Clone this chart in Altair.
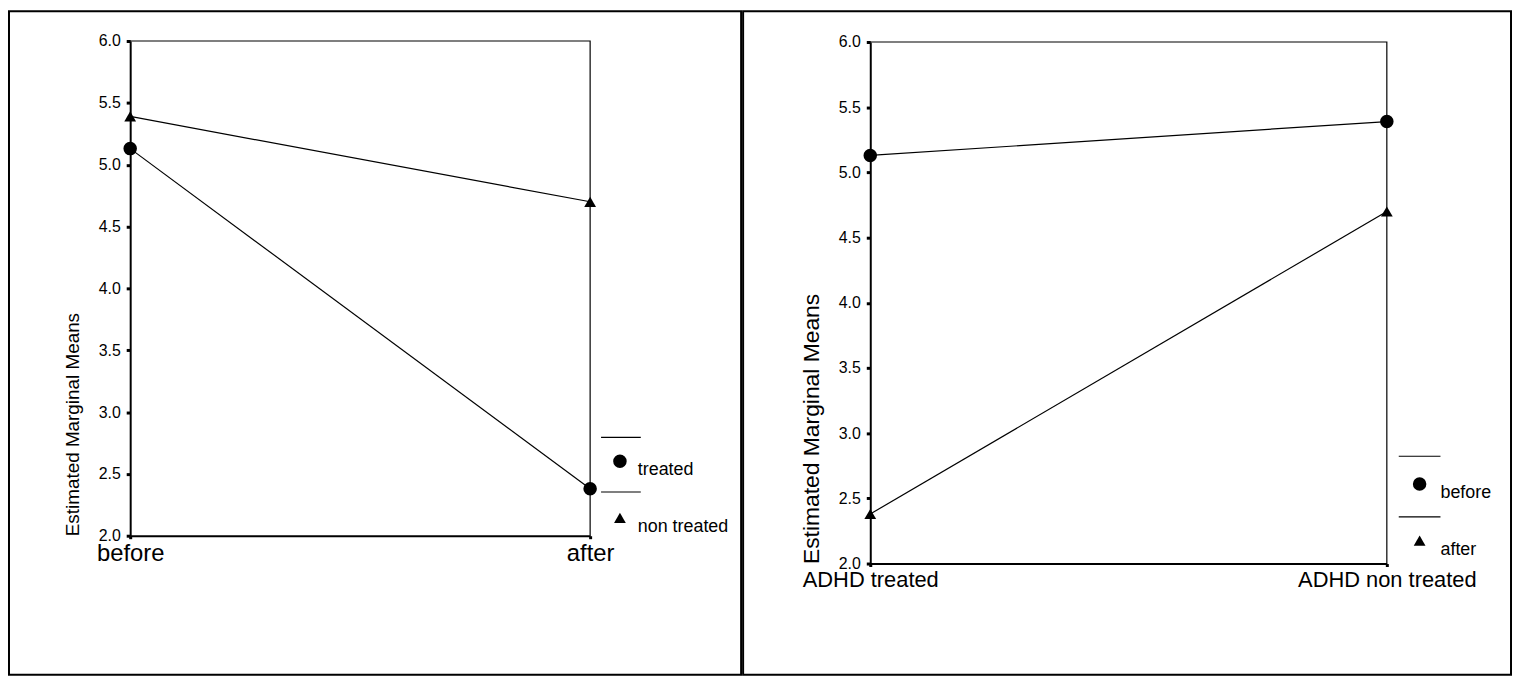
import altair as alt
import pandas as pd

FONT = "Liberation Sans"

time_cats = ["before", "after"]
group_cats = ["ADHD treated", "ADHD non treated"]
left_series = ["treated", "non treated"]
right_series = ["before", "after"]
treated_means = [5.13, 2.38]       # before, after
non_treated_means = [5.39, 4.70]   # before, after
y_ticks = [2.0, 2.5, 3.0, 3.5, 4.0, 4.5, 5.0, 5.5, 6.0]
y_title = "Estimated Marginal Means"

left_df = pd.DataFrame({
    "x": time_cats + time_cats,
    "series": [left_series[0]] * 2 + [left_series[1]] * 2,
    "y": treated_means + non_treated_means,
})
right_df = pd.DataFrame({
    "x": group_cats + group_cats,
    "series": [right_series[0]] * 2 + [right_series[1]] * 2,
    "y": [treated_means[0], non_treated_means[0], treated_means[1], non_treated_means[1]],
})

H = 668


def panel(df, cats, series, W, xr, yr, xfs, tfs, tpad, lx, ly, loff, sep_x, sep_ys):
    xs = alt.Scale(domain=cats, range=xr, padding=0)
    ys = alt.Scale(domain=[2.0, 6.0], range=yr, nice=False, zero=False)
    xax = alt.Axis(title=None, offset=-(H - yr[0]), labelAngle=0, labelFont=FONT,
                   labelFontSize=xfs, labelColor="black", labelPadding=3,
                   labelBaseline="top", tickSize=3, tickWidth=3, tickColor="black",
                   domainColor="black", domainWidth=2, grid=False)
    yax = alt.Axis(title=y_title, values=y_ticks, format=".1f", offset=-xr[0],
                   labelFont=FONT, labelFontSize=16, labelColor="black", labelPadding=6,
                   tickSize=4, tickWidth=3, tickColor="black", domainColor="black",
                   domainWidth=2, grid=False, titleFont=FONT, titleFontSize=tfs,
                   titleFontWeight="normal", titleColor="black", titleAnchor="start",
                   titlePadding=tpad)
    X = alt.X("x:N", scale=xs, sort=cats, axis=xax)
    Y = alt.Y("y:Q", scale=ys, axis=yax)

    frame_df = pd.DataFrame({"x": [cats[0], cats[1], cats[1]], "y": [6.0, 6.0, 2.0], "o": [0, 1, 2]})
    frame = alt.Chart(frame_df).mark_line(color="black", strokeWidth=1.2).encode(
        x=X, y=Y, order="o:Q")
    lines = alt.Chart(df).mark_line(color="black", strokeWidth=1.2).encode(
        x=X, y=Y, detail="series:N")
    leg = alt.Legend(title=None, orient="none", legendX=lx, legendY=ly, padding=0,
                     labelFont=FONT, labelFontSize=18, labelColor="black",
                     labelBaseline="top", labelOffset=loff,
                     rowPadding=30, symbolFillColor="black", symbolStrokeWidth=0)
    pts = alt.Chart(df).mark_point(filled=True, color="black", opacity=1).encode(
        x=X, y=Y,
        shape=alt.Shape("series:N", sort=series,
                        scale=alt.Scale(domain=series, range=["circle", "triangle-up"]),
                        legend=leg),
        size=alt.Size("series:N", sort=series,
                      scale=alt.Scale(domain=series, range=[185, 140]), legend=leg),
    )
    dummy = pd.DataFrame({"k": [0]})
    seps = [
        alt.Chart(dummy).mark_rule(color="black", strokeWidth=1.2).encode(
            x=alt.value(sep_x[0]), x2=alt.value(sep_x[1]), y=alt.value(sy))
        for sy in sep_ys
    ]
    return alt.layer(frame, lines, pts, *seps).properties(width=W, height=H)


left = panel(left_df, time_cats, left_series, 737, [122, 585], [528, 30], 24, 19, 16,
             606, 444, 9, [596, 636], [429, 484])
right = panel(right_df, group_cats, right_series, 773, [128, 648], [556, 31], 22, 23, 15,
              672, 467, 12, [660, 702], [448, 509])

chart = alt.hconcat(left, right, spacing=0).resolve_scale(
    x="independent", y="independent", shape="independent", size="independent"
).resolve_legend(shape="independent", size="independent").configure(
    padding=0, background="white"
).configure_view(stroke="black", strokeWidth=2)

chart.save("out.html", embed_options={"renderer": "svg", "actions": False})
